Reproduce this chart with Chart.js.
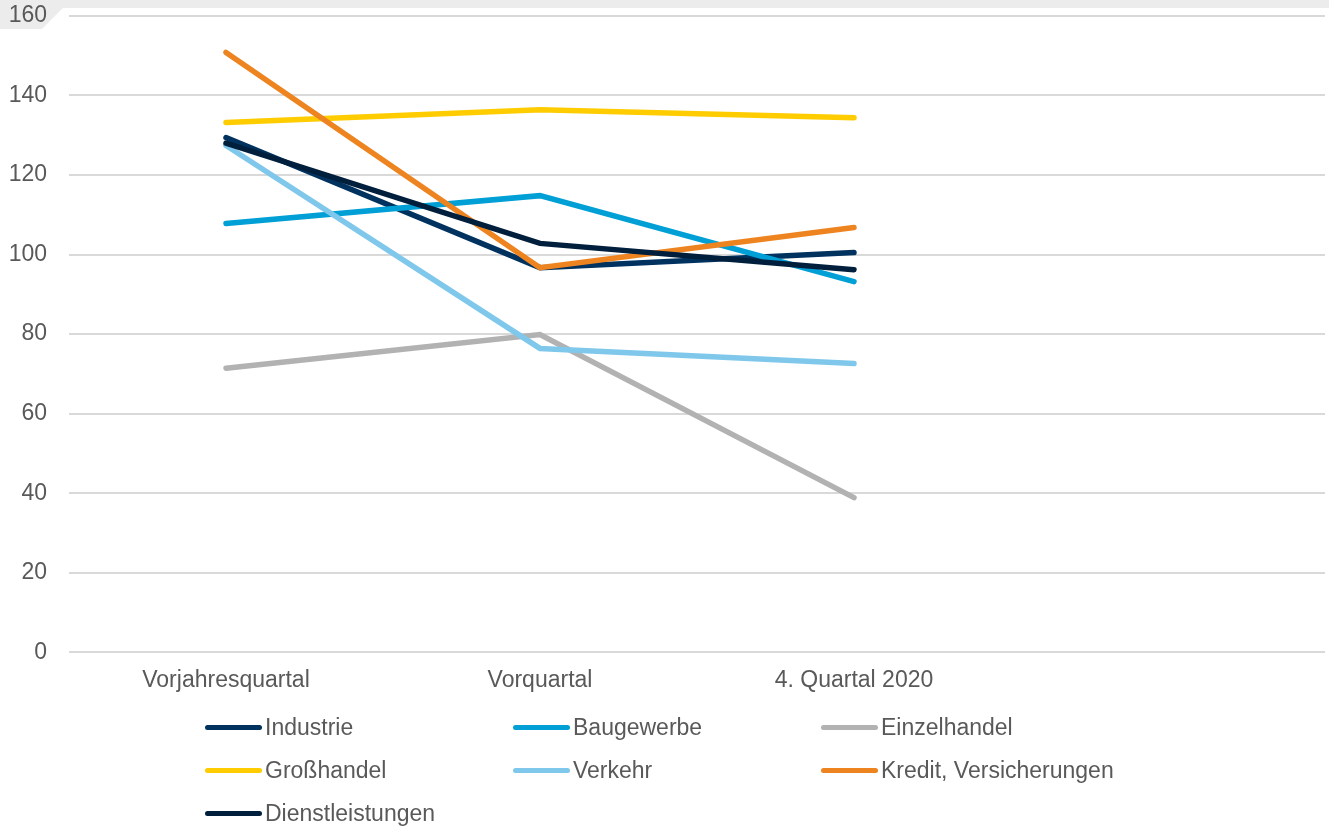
<!DOCTYPE html>
<html>
<head>
<meta charset="utf-8">
<script src="https://cdn.jsdelivr.net/npm/chart.js@4/dist/chart.umd.min.js"></script>
<style>
  html, body { margin: 0; padding: 0; background: #fff; }
  #wrap { position: relative; width: 1329px; height: 826px; overflow: hidden; }
  #band {
    position: absolute; left: 0; top: 0; width: 1329px; height: 29px;
    background: #ececec;
    clip-path: polygon(0 0, 1329px 0, 1329px 8px, 63px 8px, 42px 29px, 0 29px);
  }
  #chartBox { position: absolute; left: 0; top: -20px; width: 1329px; height: 846px; }
  #legend {
    position: absolute; left: 205px; top: 706px;
    display: grid; grid-template-columns: 308px 308px 308px; grid-auto-rows: 43px;
    font-family: "Liberation Sans", Arial, sans-serif; font-size: 23px; color: #595959;
  }
  .item { display: flex; align-items: center; height: 43px; white-space: nowrap; }
  .swatch { width: 57px; height: 5px; border-radius: 3px; margin-right: 3px; }
</style>
</head>
<body>
<div id="wrap">
  <div id="band"></div>
  <div id="chartBox"><canvas id="myChart"></canvas></div>
  <div id="legend"></div>
</div>
<script>
// quarters on the x axis, the last slot stays empty
var quarters = ["Vorjahresquartal", "Vorquartal", "4. Quartal 2020", ""];

var industrie = [129.4, 96.7, 100.5];
var baugewerbe = [107.8, 114.8, 93.2];
var einzelhandel = [71.4, 79.9, 38.9];
var grosshandel = [133.2, 136.4, 134.4];
var verkehr = [127.4, 76.4, 72.6];
var kredit = [150.8, 96.7, 106.8];
var dienstleistungen = [128.0, 102.8, 96.2];

var yTicks = [0, 20, 40, 60, 80, 100, 120, 140, 160];

var series = [
  { label: "Industrie", data: industrie, color: "#00325f" },
  { label: "Baugewerbe", data: baugewerbe, color: "#00a0d6" },
  { label: "Einzelhandel", data: einzelhandel, color: "#b2b2b2" },
  { label: "Großhandel", data: grosshandel, color: "#ffcc00" },
  { label: "Verkehr", data: verkehr, color: "#80c8eb" },
  { label: "Kredit, Versicherungen", data: kredit, color: "#ee8420" },
  { label: "Dienstleistungen", data: dienstleistungen, color: "#001f3d" }
];

var font = { family: "'Liberation Sans', Arial, sans-serif", size: 23 };

var ctx = document.getElementById('myChart').getContext('2d');
var myChart = new Chart(ctx, {
  type: 'line',
  data: {
    labels: quarters,
    datasets: series.map(function (s, i) {
      return {
        label: s.label,
        data: s.data,
        borderColor: s.color,
        backgroundColor: s.color,
        borderWidth: 5.5,
        borderCapStyle: 'round',
        pointRadius: 0,
        fill: false,
        tension: 0,
        order: series.length - i   // later series on top
      };
    })
  },
  options: {
    responsive: true,
    maintainAspectRatio: false,
    animation: false,
    layout: { padding: { left: 8, right: 4, top: 3, bottom: 118 } },
    plugins: { legend: { display: false }, tooltip: { enabled: false } },
    scales: {
      x: {
        offset: true,
        grid: { display: false, drawTicks: false },
        border: { display: false },
        ticks: { color: "#595959", font: font, padding: 14, maxRotation: 0, autoSkip: false }
      },
      y: {
        min: 0,
        max: 160,
        afterBuildTicks: function (axis) {
          axis.ticks = yTicks.map(function (v) { return { value: v }; });
        },
        afterFit: function (axis) { axis.width = 61; },
        grid: { color: "#d9d9d9", lineWidth: 2, drawTicks: false },
        border: { display: false },
        ticks: { color: "#595959", font: font, padding: 22 }
      }
    }
  }
});

// legend as three columns below the plot
var legend = document.getElementById("legend");
myChart.data.datasets.forEach(function (ds) {
  var item = document.createElement("div");
  item.className = "item";
  var sw = document.createElement("div");
  sw.className = "swatch";
  sw.style.background = ds.borderColor;
  var txt = document.createElement("span");
  txt.textContent = ds.label;
  item.appendChild(sw);
  item.appendChild(txt);
  legend.appendChild(item);
});
</script>
</body>
</html>
